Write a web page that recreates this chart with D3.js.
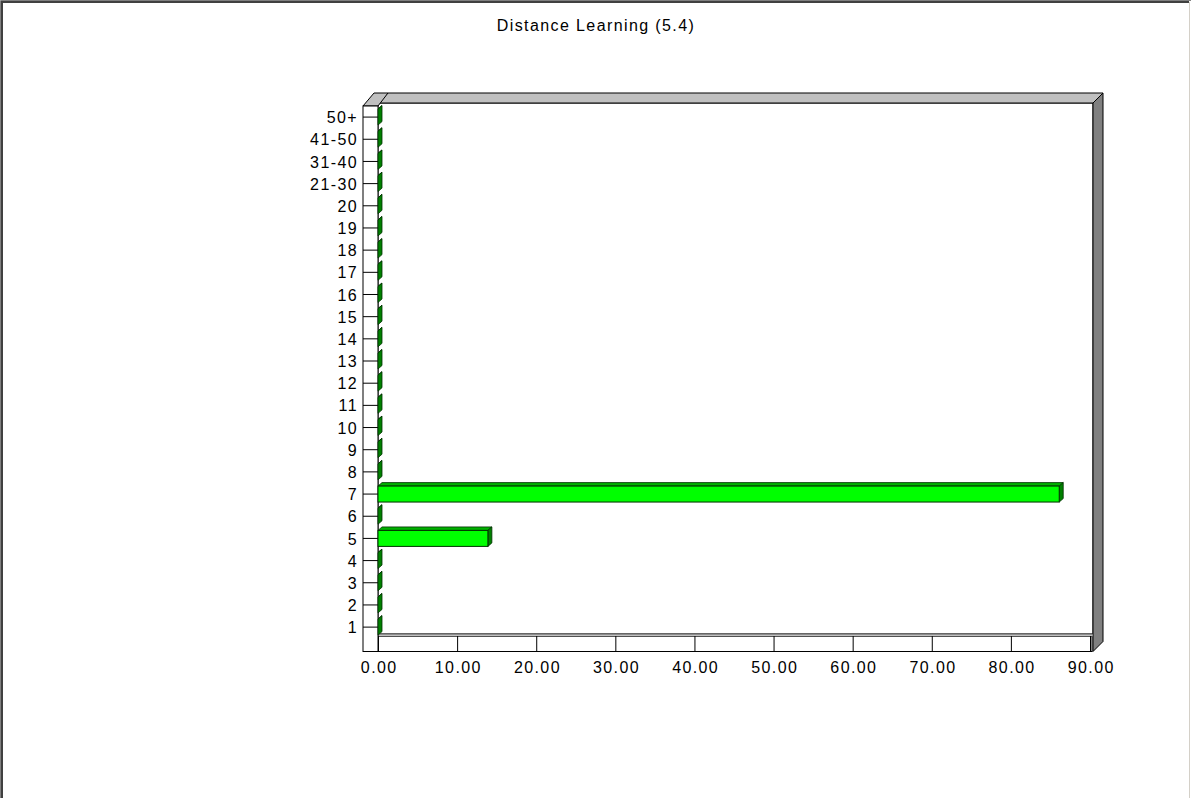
<!DOCTYPE html>
<html><head><meta charset="utf-8">
<script src="https://cdn.jsdelivr.net/npm/d3@7/dist/d3.min.js"></script>
<style>
html,body{margin:0;padding:0;background:#fff;}
svg{display:block;}
text{font-family:"Liberation Sans",Arial,sans-serif;fill:#000;}
</style></head>
<body>
<script>
const title = "Distance Learning (5.4)";
const categories = ["1","2","3","4","5","6","7","8","9","10","11","12","13","14","15","16","17","18","19","20","21-30","31-40","41-50","50+"];
const values = [0,0,0,0,13.89,0,86.11,0,0,0,0,0,0,0,0,0,0,0,0,0,0,0,0,0];
const xTicks = [0,10,20,30,40,50,60,70,80,90];

(function(){
const W = 1191, H = 798;
const svg = d3.select("body").append("svg").attr("width", W).attr("height", H);

svg.append("rect").attr("x",0).attr("y",0).attr("width",W).attr("height",H).attr("fill","#fff");
svg.append("path").attr("d",`M0.5,${H} V0.5 H${W}`).attr("stroke","#808080").attr("fill","none");
svg.append("path").attr("d",`M2,${H} V2 H${W-2}`).attr("stroke","#404040").attr("stroke-width",2).attr("fill","none");
svg.append("path").attr("d",`M${W-1.5},2 V${H}`).attr("stroke","#d4d0c8").attr("fill","none");

const x = d3.scaleLinear().domain([0,90]).range([378,1090]);
const y = d3.scaleBand().domain(categories).range([638.2,106]);
const bw = y.bandwidth();

const wallL = 363, wallR = 378, wallTop = 103, floorTop = 634, floorBot = 651.5, rightX = 1093, dd = 10;
const stroke = "#000";

svg.append("rect").attr("x",wallR).attr("y",wallTop).attr("width",rightX-wallR).attr("height",floorTop-wallTop)
  .attr("fill","#fff").attr("stroke",stroke);

svg.append("path").attr("d",`M${wallR},${wallTop} L${wallR+dd},${wallTop-dd} L${rightX+dd},${wallTop-dd} L${rightX},${wallTop} Z`)
  .attr("fill","#c0c0c0").attr("stroke",stroke).attr("stroke-linejoin","round");
svg.append("path").attr("d",`M${wallL},${106} L${wallL+dd+1},${wallTop-dd} L${wallR+dd},${wallTop-dd} L${wallR},${106} Z`)
  .attr("fill","#c0c0c0").attr("stroke",stroke);
svg.append("path").attr("d",`M${rightX},${wallTop} L${rightX+dd},${wallTop-dd} L${rightX+dd},${floorBot-dd} L${rightX},${floorBot} Z`)
  .attr("fill","#808080").attr("stroke",stroke);

svg.append("rect").attr("x",wallR).attr("y",floorTop+2).attr("width",rightX-1-wallR).attr("height",floorBot-floorTop-2)
  .attr("fill","#fff").attr("stroke",stroke);
svg.append("rect").attr("x",wallR).attr("y",floorTop).attr("width",rightX-wallR).attr("height",2.5)
  .attr("fill","#c0c0c0").attr("stroke","#404040").attr("stroke-width",0.8);

svg.append("rect").attr("x",wallL).attr("y",106).attr("width",wallR-wallL).attr("height",floorBot-106)
  .attr("fill","#fff").attr("stroke",stroke);

const xAxis = d3.axisBottom(x).tickValues(xTicks).tickFormat(d3.format(".2f")).tickSize(floorBot-floorTop-2).tickPadding(10);
const gx = svg.append("g").attr("transform",`translate(0,${floorTop+2})`).call(xAxis);
gx.select(".domain").remove();
gx.selectAll("line").attr("stroke",stroke);
gx.selectAll("text").attr("font-size","16px").attr("letter-spacing","1.4px").attr("dx","0.7px");

const yAxis = d3.axisLeft(y).tickSize(wallR-wallL).tickPadding(5);
const gy = svg.append("g").attr("transform",`translate(${wallR},0)`).call(yAxis);
gy.select(".domain").remove();
gy.selectAll("line").attr("stroke",stroke);
gy.selectAll("text").attr("font-size","16px").attr("letter-spacing","1.4px").attr("dy","0.38em");

const bh = bw*0.72, dx = 4, dy = 3.5;
const g = svg.append("g");
categories.forEach((c,i)=>{
  const v = values[i];
  const x0 = x(0), x1 = x(v);
  const yt = y(c) + (bw-bh)/2, yb = yt + bh;
  g.append("path").attr("d",`M${x0},${yt} L${x0+dx},${yt-dy} L${x1+dx},${yt-dy} L${x1},${yt} Z`)
    .attr("fill","#00b000").attr("stroke","#003000").attr("stroke-width",0.8);
  g.append("path").attr("d",`M${x1},${yt} L${x1+dx},${yt-dy} L${x1+dx},${yb-dy} L${x1},${yb} Z`)
    .attr("fill","#008000").attr("stroke","#003000").attr("stroke-width",0.8);
  if (v>0) {
    g.append("rect").attr("x",x0).attr("y",yt).attr("width",x1-x0).attr("height",bh)
      .attr("fill","#00ff00").attr("stroke","#003000").attr("stroke-width",1);
  }
});

svg.append("text").attr("x",596).attr("y",31).attr("text-anchor","middle")
  .attr("font-size","16px").attr("letter-spacing","1.4px").text(title);
})();
</script>
</body></html>
